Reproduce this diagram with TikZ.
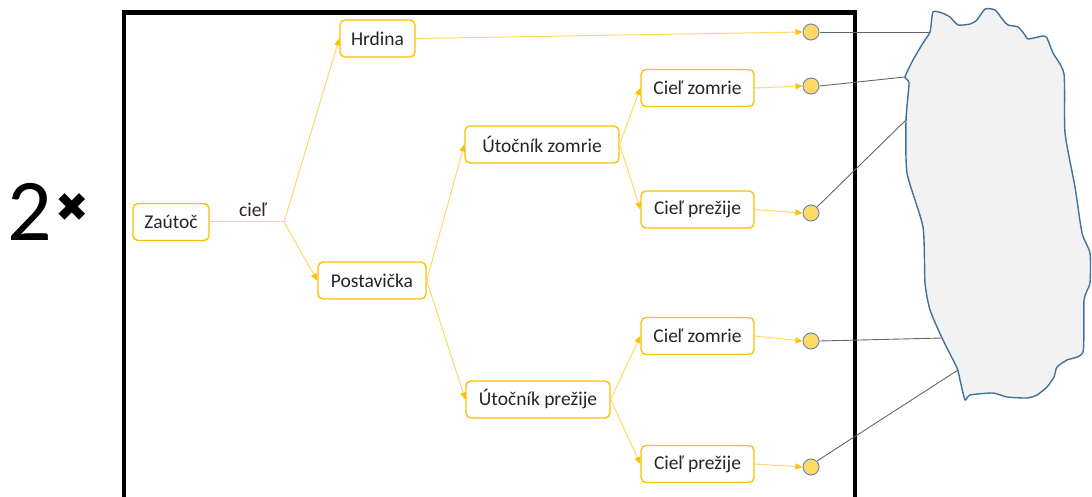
\documentclass[tikz,border=0pt]{standalone}
\usepackage{fontspec}
\setmainfont{Carlito}
\newfontfamily\symfont{DejaVu Sans}
\usetikzlibrary{arrows.meta}
\definecolor{gold}{HTML}{FFC000}
\definecolor{lightgold}{HTML}{FFD966}
\definecolor{dotfill}{HTML}{FFD966}
\definecolor{dotline}{HTML}{6D8DB5}
\definecolor{blobfill}{HTML}{F2F2F2}
\definecolor{blobline}{HTML}{41719C}
\definecolor{txt}{HTML}{262626}
\begin{document}
\begin{tikzpicture}[x=1pt,y=-1pt,
  box/.style={draw=gold, line width=1.4pt, rounded corners=5pt, fill=white, minimum height=37pt, inner sep=0pt, font=\fontsize{19.5}{22}\selectfont, text=txt},
  conn/.style={draw=lightgold, line width=1pt, -{Triangle[length=7pt,width=6pt,color=gold]}},
  plain/.style={draw=lightgold, line width=1pt},
  dot/.style={circle, minimum size=16pt, inner sep=0pt, fill=dotfill, draw=dotline, line width=1pt},
  link/.style={draw=black!60, line width=0.9pt},
  frame/.style={draw=black, line width=4.5pt}
]
\useasboundingbox (0,0) rectangle (1092,497);
\fill[white] (0,0) rectangle (1092,497);

% multiplier
\node[font=\fontsize{88}{90}\selectfont, inner sep=0pt, anchor=south west] (two) at (7,241) {2};
\node[font=\symfont\fontsize{40}{42}\selectfont, inner sep=0pt] (times) at (72.5,207.5) {✖};

% frame
\draw[frame] (124,497) -- (124,12.5) -- (855,12.5) -- (855,497);

% blob
\draw[fill=blobfill, draw=blobline, line width=1.4pt] plot[smooth cycle, tension=0.35] coordinates {
(933,12) (942,13) (950,17) (958,25) (970,24) (977,20) (985,9) (995,10) (1003,20) (1008,25)
(1018,27) (1025,35) (1028,39) (1043,36) (1047,38) (1053,53) (1064,74) (1065,133) (1075,187)
(1082,233) (1090,253) (1090,283) (1084,300) (1083,352) (1067,360) (1057,367) (1054,377)
(1047,387) (1037,395) (1027,398) (1007,397) (993,393) (970,395) (965,400) (960,380) (957,368)
(942,338) (930,310) (925,283) (923,227) (907,173) (906,120) (909,83) (905,77) (913,60) (923,43) (930,32)};
\coordinate (b1) at (930,32);
\coordinate (b2) at (905,77);
\coordinate (b3) at (907,119);
\coordinate (b4) at (942,338);
\coordinate (b5) at (958,370);

% nodes
\node[box, minimum width=76pt] (zautoc) at (171,222) {Zaútoč};
\node[font=\fontsize{19.5}{22}\selectfont, text=txt, inner sep=0pt] (ciel) at (253,210) {cieľ};
\coordinate (j) at (284,222);
\node[box, minimum width=75pt] (hrdina) at (377.5,38.5) {Hrdina};
\node[box, minimum width=108pt] (postav) at (372,280.5) {Postavička};
\node[box, minimum width=154pt] (uz) at (542,144.5) {Útočník zomrie};
\node[box, minimum width=144pt] (up) at (538,399.5) {Útočník prežije};
\node[box, minimum width=113pt] (cz1) at (697.5,88) {Cieľ zomrie};
\node[box, minimum width=113pt] (cp1) at (697.5,209.5) {Cieľ prežije};
\node[box, minimum width=113pt] (cz2) at (697.5,336) {Cieľ zomrie};
\node[box, minimum width=113pt] (cp2) at (697.5,464) {Cieľ prežije};

% dots
\node[dot] (d1) at (811,32) {};
\node[dot] (d2) at (811,86) {};
\node[dot] (d3) at (811,213) {};
\node[dot] (d4) at (811,341) {};
\node[dot] (d5) at (811,467) {};

% tree connectors
\draw[plain] (zautoc.east) -- (j);
\draw[conn] (j) -- (hrdina.west);
\draw[conn] (j) -- (postav.west);
\draw[conn] (postav.east) -- (uz.west);
\draw[conn] (postav.east) -- (up.west);
\draw[conn] (uz.east) -- (cz1.west);
\draw[conn] (uz.east) -- (cp1.west);
\draw[conn] (up.east) -- (cz2.west);
\draw[conn] (up.east) -- (cp2.west);

% to dots
\draw[conn] (hrdina.east) -- (d1.west);
\draw[conn] (cz1.east) -- (d2.west);
\draw[conn] (cp1.east) -- (d3.west);
\draw[conn] (cz2.east) -- (d4.west);
\draw[conn] (cp2.east) -- (d5.west);

% dots to blob
\draw[link] (d1.east) -- (b1);
\draw[link] (d2.east) -- (b2);
\draw[link] (d3.north east) -- (b3);
\draw[link] (d4.east) -- (b4);
\draw[link] (d5.north east) -- (b5);
\end{tikzpicture}
\end{document}
